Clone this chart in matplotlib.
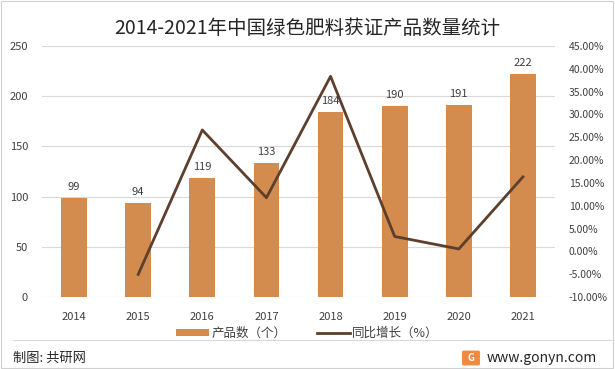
import matplotlib.pyplot as plt
from matplotlib.patches import Rectangle, FancyBboxPatch
from matplotlib.ticker import FuncFormatter

plt.rcParams['font.family'] = ['Noto Sans CJK SC', 'DejaVu Sans']

years = ['2014', '2015', '2016', '2017', '2018', '2019', '2020', '2021']
counts = [99, 94, 119, 133, 184, 190, 191, 222]
growth_years = ['2015', '2016', '2017', '2018', '2019', '2020', '2021']
growth = [-5.05, 26.60, 11.76, 38.35, 3.26, 0.53, 16.32]

bar_color = '#D38B4E'
line_color = '#5C3F2C'
text_color = '#404040'

fig = plt.figure(figsize=(6.15, 3.69), dpi=100)
ax = fig.add_axes([42 / 615, 1 - 297 / 369, 513 / 615, 251 / 369])

x = list(range(len(years)))
bars = ax.bar(x, counts, width=0.4, color=bar_color, zorder=2, label='产品数（个）')
for xi, v in zip(x, counts):
    ax.text(xi, v + 6, str(v), ha='center', va='bottom', fontsize=8, color=text_color)

ax.set_ylim(0, 250)
ax.set_yticks(range(0, 251, 50))
ax.set_xlim(-0.5, len(years) - 0.5)
ax.set_xticks(x)
ax.set_xticklabels(years)
ax.grid(axis='y', color='#D9D9D9', linewidth=0.8, zorder=0)
ax.tick_params(axis='both', length=0, labelsize=8, colors=text_color)
ax.tick_params(axis='x', pad=11)
ax.tick_params(axis='y', pad=10)
for s in ax.spines.values():
    s.set_visible(False)

ax2 = ax.twinx()
gx = [years.index(y) for y in growth_years]
line, = ax2.plot(gx, growth, color=line_color, linewidth=2, zorder=3, label='同比增长（%）')
ax2.set_ylim(-10, 45)
ax2.set_yticks(range(-10, 46, 5))
ax2.yaxis.set_major_formatter(FuncFormatter(lambda v, p: f'{v:.2f}%'))
ax2.tick_params(axis='y', length=0, labelsize=7.5, colors=text_color, pad=10)
for s in ax2.spines.values():
    s.set_visible(False)

fig.text(0.5, 1 - 28 / 369, '2014-2021年中国绿色肥料获证产品数量统计', ha='center', va='center',
         fontsize=14, color='#262626')

fig.legend([bars, line], ['产品数（个）', '同比增长（%）'], loc='center',
           bbox_to_anchor=(0.5, 1 - 333 / 369), ncol=2, frameon=False, fontsize=9,
           handlelength=2.6, handleheight=0.5, columnspacing=2.5, handletextpad=0.2,
           labelcolor=text_color)

# separator and footer
fig.add_artist(plt.Line2D([13 / 615, 1.0], [1 - 340 / 369, 1 - 340 / 369], color='#D9D9D9', linewidth=0.8))
fig.text(13 / 615, 1 - 358 / 369, '制图: 共研网', ha='left', va='center', fontsize=9.5, color='#262626')
fig.add_artist(FancyBboxPatch((464 / 615, 1 - 364 / 369), 14 / 615, 12 / 369,
                              boxstyle='round,pad=0.002', color='#F08A3C', transform=fig.transFigure))
fig.text(471 / 615, 1 - 358 / 369, 'G', ha='center', va='center', fontsize=7, color='white',
         fontweight='bold')
fig.text(487 / 615, 1 - 358 / 369, 'www.gonyn.com', ha='left', va='center', fontsize=10, color='#262626')

fig.add_artist(Rectangle((0.002, 0.003), 0.995, 0.994, fill=False, edgecolor='#D0D0D0',
                         linewidth=0.8, transform=fig.transFigure))

fig.savefig('out.png', dpi=100)
